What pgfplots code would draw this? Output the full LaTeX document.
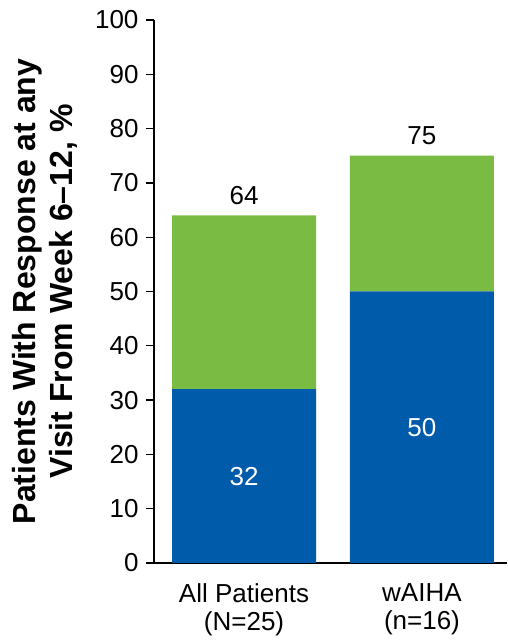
\documentclass[border=0pt]{standalone}
\usepackage{pgfplots}
\pgfplotsset{compat=1.18}
\usepackage{fontspec}
\setmainfont{Liberation Sans}
\definecolor{respblue}{RGB}{0,91,170}
\definecolor{respgreen}{RGB}{122,187,67}
\newcommand{\lblfont}{\fontsize{26}{28}\selectfont}
\pgfplotsset{
  respframe/.style={
    at={(154pt,77pt)}, anchor=south west,
    scale only axis,
    width=353pt, height=543pt,
    xmin=-0.506, xmax=1.478,
    ymin=0, ymax=100,
    clip=false,
    /pgf/number format/assume math mode=true,
  },
}
\begin{document}
\begin{tikzpicture}[x=1pt,y=1pt]
\path[use as bounding box] (0,0) rectangle (507,640);
\begin{axis}[
  respframe,
  ybar stacked,
  bar width=0.809,
  ytick={0,10,...,100},
  xtick={0,1},
  xticklabels={All Patients\\(N=25), wAIHA\\(n=16)},
  xticklabel style={align=center, font=\lblfont, yshift=-9pt},
  x tick style={draw=none},
  yticklabel style={font=\lblfont, xshift=-4pt},
  axis x line*=bottom, axis y line*=left,
  axis line style={line width=1.3pt},
  y tick style={line width=1.3pt, black},
  tick align=outside,
  major tick length=8pt,
  ylabel={Patients With Response at any\\Visit From Week 6–12, \%},
  ylabel style={at={(axis description cs:-0.412,0.5)}, anchor=north,
    align=center, font=\fontsize{32}{37}\selectfont\bfseries},
]
% responders in the lower segment
\addplot[fill=respblue, draw=none] coordinates {(0,32) (1,50)};
% additional responders on top
\addplot[fill=respgreen, draw=none] coordinates {(0,32) (1,25)};
\end{axis}
% values centred inside the lower segments
\begin{axis}[
  respframe, hide axis,
  nodes near coords style={text=white, font=\lblfont, anchor=center},
]
\addplot[draw=none, mark=none, point meta=explicit, nodes near coords]
  coordinates {(0,16)[32] (1,25)[50]};
\end{axis}
% totals above the stacks
\begin{axis}[
  respframe, hide axis,
  nodes near coords style={text=black, font=\lblfont, anchor=base, yshift=11pt},
]
\addplot[draw=none, mark=none, point meta=explicit, nodes near coords]
  coordinates {(0,64)[64] (1,75)[75]};
\end{axis}
\end{tikzpicture}
\end{document}
